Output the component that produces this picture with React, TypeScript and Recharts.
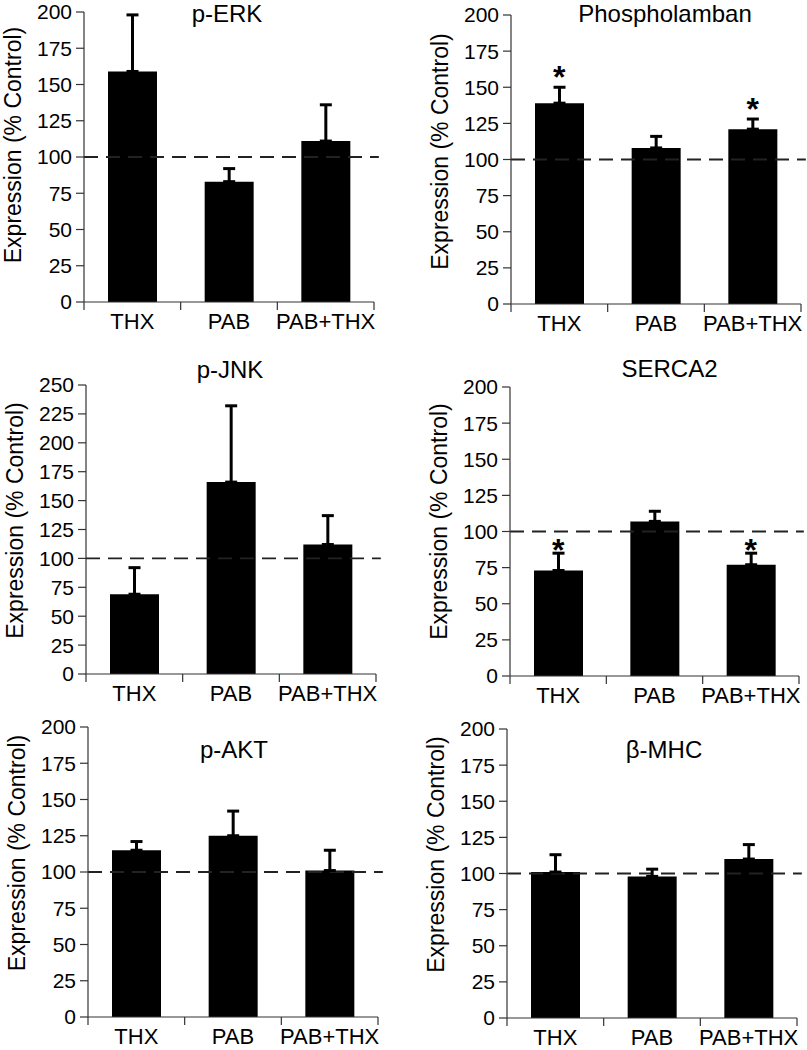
import React from 'react';
import { BarChart, Bar, XAxis, YAxis, ErrorBar, ReferenceLine, ReferenceDot } from 'recharts';

const FONT = '"Liberation Sans", Arial, Helvetica, sans-serif';

const groups = ['THX', 'PAB', 'PAB+THX'];
const ticks200 = [0, 25, 50, 75, 100, 125, 150, 175, 200];
const ticks250 = [0, 25, 50, 75, 100, 125, 150, 175, 200, 225, 250];
const controlLevel = 100;
const yLabel = 'Expression (% Control)';

// p-ERK
const perkMean = [159, 83, 111];
const perkSem = [39, 9, 25];
const perkStars = [false, false, false];
// Phospholamban
const plbMean = [139, 108, 121];
const plbSem = [11, 8, 7];
const plbStars = [true, false, true];
// p-JNK
const jnkMean = [69, 166, 112];
const jnkSem = [23, 66, 25];
const jnkStars = [false, false, false];
// SERCA2
const sercaMean = [73, 107, 77];
const sercaSem = [12, 7, 8];
const sercaStars = [true, false, true];
// p-AKT
const aktMean = [115, 125, 101];
const aktSem = [6, 17, 14];
const aktStars = [false, false, false];
// beta-MHC
const mhcMean = [101, 98, 110];
const mhcSem = [12, 5, 10];
const mhcStars = [false, false, false];

const panels = [
  { title: 'p-ERK', means: perkMean, sems: perkSem, stars: perkStars, yMax: 200, yTicks: ticks200,
    box: { left: 0, top: 0, width: 400, height: 340 }, plot: { x: 84, y: 12, w: 290, h: 290 },
    titleDx: -2, titleY: 22, labelDy: -12, starOffset: 0 },
  { title: 'Phospholamban', means: plbMean, sems: plbSem, stars: plbStars, yMax: 200, yTicks: ticks200,
    box: { left: 400, top: 0, width: 407, height: 340 }, plot: { x: 511, y: 15, w: 290, h: 289 },
    titleDx: 9, titleY: 22, labelDy: -8, starOffset: -1 },
  { title: 'p-JNK', means: jnkMean, sems: jnkSem, stars: jnkStars, yMax: 250, yTicks: ticks250,
    box: { left: 0, top: 340, width: 400, height: 372 }, plot: { x: 86, y: 385, w: 290, h: 289 },
    titleDx: -1, titleY: 378, labelDy: -9, starOffset: 0 },
  { title: 'SERCA2', means: sercaMean, sems: sercaSem, stars: sercaStars, yMax: 200, yTicks: ticks200,
    box: { left: 400, top: 340, width: 407, height: 372 }, plot: { x: 510, y: 387, w: 289, h: 289 },
    titleDx: 15, titleY: 377, labelDy: -10, starOffset: -8 },
  { title: 'p-AKT', means: aktMean, sems: aktSem, stars: aktStars, yMax: 200, yTicks: ticks200,
    box: { left: 0, top: 712, width: 400, height: 338 }, plot: { x: 88, y: 727, w: 290, h: 290 },
    titleDx: 1, titleY: 758, labelDy: -19, starOffset: 0 },
  { title: 'β-MHC', means: mhcMean, sems: mhcSem, stars: mhcStars, yMax: 200, yTicks: ticks200,
    box: { left: 400, top: 712, width: 407, height: 338 }, plot: { x: 507, y: 729, w: 290, h: 289 },
    titleDx: 12, titleY: 758, labelDy: -19, starOffset: 0 },
];

const xTicks = [0, 0.5, 1, 1.5, 2, 2.5, 3];
const TICK_SIZE = 8;
const TICK_MARGIN = 3;

function XTick(props: any) {
  const { x, y, payload } = props;
  const v = payload.value;
  if (Number.isInteger(v)) {
    return (
      <line x1={x} x2={x} y1={y - TICK_MARGIN - TICK_SIZE} y2={y - TICK_MARGIN} stroke="#333" strokeWidth={1.2} />
    );
  }
  return (
    <text x={x} y={y} dy="0.71em" textAnchor="middle" fontSize={22} fill="#000" fontFamily={FONT}>
      {groups[Math.floor(v)]}
    </text>
  );
}

function Panel({ p }: { p: any }) {
  const data = groups.map((g, i) => ({
    pos: i + 0.5,
    group: g,
    mean: p.means[i],
    err: [0, p.sems[i]],
  }));
  const yAxisW = p.plot.x - p.box.left;
  const top = p.plot.y - p.box.top;
  const right = p.box.left + p.box.width - (p.plot.x + p.plot.w);
  const xAxisH = p.box.top + p.box.height - (p.plot.y + p.plot.h);
  const titleX = p.plot.x + p.plot.w / 2 + p.titleDx - p.box.left;
  const titleY = p.titleY - p.box.top;
  const labX = yAxisW - 71;
  const labY = top + p.plot.h / 2 + p.labelDy;

  return (
    <div style={{ position: 'absolute', left: p.box.left, top: p.box.top, width: p.box.width, height: p.box.height }}>
      <BarChart
        width={p.box.width}
        height={p.box.height}
        data={data}
        margin={{ top, right, left: 0, bottom: 0 }}
      >
        <XAxis
          type="number"
          dataKey="pos"
          domain={[0, 3]}
          ticks={xTicks}
          interval={0}
          allowDataOverflow
          tickLine={false}
          tickSize={TICK_SIZE}
          tickMargin={TICK_MARGIN}
          axisLine={{ stroke: '#333', strokeWidth: 1.2 }}
          tick={<XTick />}
          height={xAxisH}
        />
        <YAxis
          type="number"
          domain={[0, p.yMax]}
          ticks={p.yTicks}
          interval={0}
          width={yAxisW}
          tickSize={TICK_SIZE}
          tickMargin={4}
          axisLine={{ stroke: '#333', strokeWidth: 1.2 }}
          tickLine={{ stroke: '#333', strokeWidth: 1.2 }}
          tick={{ fontSize: 21, fill: '#000', fontFamily: FONT }}
        />
        <ReferenceLine
          segment={[{ x: 0, y: controlLevel }, { x: 3.05, y: controlLevel }]}
          ifOverflow="visible"
          stroke="#222"
          strokeWidth={1.8}
          strokeDasharray="14 8"
        />
        <Bar dataKey="mean" fill="#000" barSize={49} isAnimationActive={false}>
          <ErrorBar dataKey="err" width={6} strokeWidth={3} stroke="#000" direction="y" />
        </Bar>
        {data.map((d, i) =>
          p.stars[i] ? (
            <ReferenceDot
              key={i}
              x={d.pos}
              y={p.means[i] + p.sems[i]}
              r={0}
              fill="none"
              stroke="none"
              label={{ value: '*', position: 'top', offset: p.starOffset, fontSize: 32, fontWeight: 'bold', fill: '#000', fontFamily: FONT }}
            />
          ) : null
        )}
        <text x={titleX} y={titleY} textAnchor="middle" fontSize={24} fill="#000" fontFamily={FONT}>
          {p.title}
        </text>
        <text
          x={labX}
          y={labY}
          transform={`rotate(-90, ${labX}, ${labY})`}
          textAnchor="middle"
          dominantBaseline="central"
          fontSize={23}
          fill="#000"
          fontFamily={FONT}
        >
          {yLabel}
        </text>
      </BarChart>
    </div>
  );
}

export default function App() {
  return (
    <div style={{ position: 'absolute', left: 0, top: 0, width: 807, height: 1050, background: '#fff', overflow: 'hidden' }}>
      {panels.map((p, i) => (
        <Panel key={i} p={p} />
      ))}
    </div>
  );
}
